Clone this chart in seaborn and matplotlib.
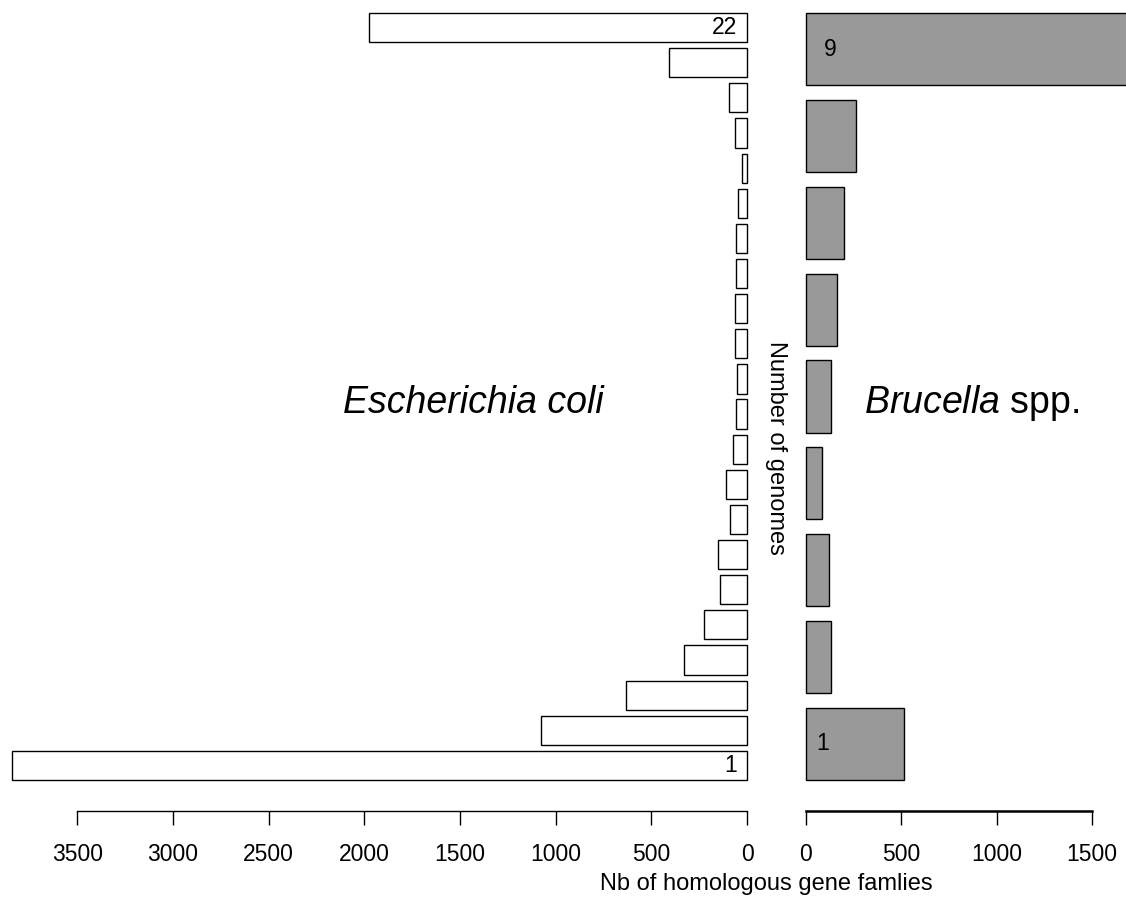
import pandas as pd
import matplotlib
matplotlib.use("Agg")
import matplotlib.pyplot as plt
import seaborn as sns

# genomes sharing a gene family (1 = strain specific, max = core genome)
ecoli_genomes = ["1", "2", "3", "4", "5", "6", "7", "8", "9", "10", "11",
                 "12", "13", "14", "15", "16", "17", "18", "19", "20", "21", "22"]
ecoli_families = [3842, 1076, 634, 329, 225, 141, 152, 89, 110, 72, 59,
                  54, 61, 61, 57, 57, 47, 28, 64, 94, 410, 1975]

brucella_genomes = ["1", "2", "3", "4", "5", "6", "7", "8", "9"]
brucella_families = [516, 129, 122, 85, 129, 164, 200, 260, 2000]

left_ticks = [0, 500, 1000, 1500, 2000, 2500, 3000, 3500]
right_ticks = [0, 500, 1000, 1500]

sns.set_style("white")
plt.rcParams['font.family'] = ['Liberation Sans', 'DejaVu Sans']
plt.rcParams['text.color'] = 'black'
plt.rcParams['mathtext.fontset'] = 'custom'
plt.rcParams['mathtext.rm'] = 'Liberation Sans'
plt.rcParams['mathtext.it'] = 'Liberation Sans:italic'

W, H = 1126, 902
fig = plt.figure(figsize=(W / 100, H / 100), dpi=100)
ax1 = fig.add_axes([0, 122 / H, 747 / W, 767 / H])
ax2 = fig.add_axes([806 / W, 122 / H, 320 / W, 767 / H])

ecoli = pd.DataFrame({"genomes": ecoli_genomes, "families": ecoli_families})
bruc = pd.DataFrame({"genomes": brucella_genomes, "families": brucella_families})

sns.barplot(data=ecoli, x="families", y="genomes", order=ecoli_genomes[::-1],
            orient="h", color="white", saturation=1, edgecolor="black",
            linewidth=1, width=0.83, ax=ax1)
sns.barplot(data=bruc, x="families", y="genomes", order=brucella_genomes[::-1],
            orient="h", color="#999999", saturation=1, edgecolor="black",
            linewidth=1, width=0.83, ax=ax2)

ax1.set_xlim(3903, 0)
ax1.set_ylim(len(ecoli_genomes) - 1 + 0.415, -0.415)
ax2.set_xlim(0, 1678)
ax2.set_ylim(len(brucella_genomes) - 1 + 0.415, -0.415)

for ax, ticks, lw in [(ax1, left_ticks, 1.0), (ax2, right_ticks, 1.8)]:
    ax.set_xlabel("")
    ax.set_ylabel("")
    ax.set_yticks([])
    for s in ["top", "left", "right"]:
        ax.spines[s].set_visible(False)
    ax.spines["bottom"].set_position(("outward", 22.3))
    ax.spines["bottom"].set_bounds(ticks[0], ticks[-1])
    ax.spines["bottom"].set_linewidth(lw)
    ax.spines["bottom"].set_color("black")
    ax.set_xticks(ticks)
    ax.set_xticklabels([str(t) for t in ticks])
    ax.tick_params(axis="x", direction="out", length=10, width=1,
                   pad=13, labelsize=16.5, colors="black", bottom=True)
    ax.patch.set_alpha(0)
    for p in ax.patches:
        p.set_clip_on(False)

# numbers of genomes written inside the extreme bars
ax1.text(52, 0, "22", ha="right", va="center", fontsize=16.5)
ax1.text(52, len(ecoli_genomes) - 1, "1", ha="right", va="center", fontsize=16.5)
ax2.text(126, 0, "9", ha="center", va="center", fontsize=16.5)
ax2.text(85, len(brucella_genomes) - 1, "1", ha="center", va="center", fontsize=16.5)

fig.text(473 / W, 1 - 413 / H, "Escherichia coli", style="italic",
         fontsize=27, ha="center", va="baseline")
fig.text(972 / W, 1 - 413 / H, r"$\mathit{Brucella}$ spp.",
         fontsize=27, ha="center", va="baseline")
fig.text(776 / W, 1 - 448 / H, "Number of genomes", rotation=-90,
         fontsize=17, ha="center", va="center")
fig.text(766 / W, 1 - 884 / H, "Nb of homologous gene famlies",
         fontsize=17, ha="center", va="center")

fig.savefig("out.png", dpi=100)
